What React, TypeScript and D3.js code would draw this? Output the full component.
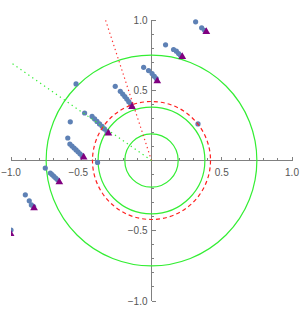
import React from "react";
import * as d3 from "d3";

const W = 300;
const H = 310;

// axis ticks
const majorTicks = [-1.0, -0.5, 0.5, 1.0];
const minorTicks = d3.range(-10, 11).filter(i => i !== 0 && i % 5 !== 0).map(i => i / 10);

// reference circles
const greenRadii = [0.19, 0.38, 0.75];
const redRadius = 0.42;

// direction rays from the origin (clipped by the plot range)
const redRay: [number, number][] = [[0, 0], [-0.36, 1.1]];
const greenRay: [number, number][] = [[0, 0], [-1.02, 0.71]];

// point trails, each one ends in a triangle (trailEnds)
const trails: [number, number][][] = [
    [[0.314, 0.987], [0.357, 0.944], [0.378, 0.927]],
    [[0.100, 0.823], [0.157, 0.790], [0.177, 0.778], [0.193, 0.761], [0.207, 0.747]],
    [[-0.056, 0.663], [-0.021, 0.640], [0.004, 0.619], [0.020, 0.599], [0.034, 0.583]],
    [[-0.258, 0.528], [-0.222, 0.492], [-0.205, 0.473], [-0.190, 0.455], [-0.176, 0.437], [-0.162, 0.419], [-0.148, 0.402]],
    [[-0.537, 0.545], [-0.476, 0.338], [-0.423, 0.314], [-0.405, 0.296], [-0.388, 0.278], [-0.370, 0.260], [-0.352, 0.243], [-0.335, 0.225], [-0.317, 0.207]],
    [[-0.578, 0.275], [-0.596, 0.160], [-0.581, 0.117], [-0.566, 0.103], [-0.551, 0.089], [-0.537, 0.075], [-0.523, 0.062], [-0.509, 0.048], [-0.495, 0.034]],
    [[-0.756, -0.054], [-0.720, -0.089], [-0.708, -0.100], [-0.695, -0.112], [-0.682, -0.125], [-0.668, -0.137]],
    [[-0.898, -0.244], [-0.870, -0.287], [-0.855, -0.316], [-0.839, -0.328]],
    [[-1.000, -0.495]],
];

const trailEnds: [number, number][] = [
    [0.390, 0.916],
    [0.219, 0.738],
    [0.041, 0.565],
    [-0.139, 0.383],
    [-0.307, 0.194],
    [-0.483, 0.023],
    [-0.656, -0.154],
    [-0.836, -0.339],
    [-1.003, -0.522],
];

const strayDots: [number, number][] = [[0.331, 0.260], [-0.384, -0.014]];

const dotColor = "#5e81b5";
const endColor = "#800080";
const axisColor = "#808080";
const labelColor = "#555";

function App(): JSX.Element {
    const x = d3.scaleLinear().domain([-1, 1]).range([11, 292]);
    const y = d3.scaleLinear().domain([-1, 1]).range([301, 20]);
    const x0 = x(0);
    const y0 = y(0);

    const line = d3.line<[number, number]>().x(d => x(d[0])).y(d => y(d[1]));
    const triangle = d3.symbol().type(d3.symbolTriangle).size(26)();

    const fmt = (v: number) => (v < 0 ? "\u2212" : "") + Math.abs(v).toFixed(1);

    return (
        <svg width={W} height={H} style={{position: "absolute", left: 0, top: 0}}>
            <defs>
                <clipPath id="plot">
                    <rect x={x(-1)} y={y(1) - 1} width={x(1) - x(-1)} height={y(-1) - y(1) + 2}/>
                </clipPath>
            </defs>

            {/* axes */}
            <g stroke={axisColor} strokeWidth={1} shapeRendering="crispEdges">
                <line x1={x(-1)} x2={x(1)} y1={y0} y2={y0}/>
                <line x1={x0} x2={x0} y1={y(1)} y2={y(-1)}/>
                {minorTicks.map(t => (
                    <g key={"m" + t}>
                        <line x1={x(t)} x2={x(t)} y1={y0} y2={y0 - 2.5}/>
                        <line x1={x0} x2={x0 + 2.5} y1={y(t)} y2={y(t)}/>
                    </g>
                ))}
                {majorTicks.map(t => (
                    <g key={"M" + t}>
                        <line x1={x(t)} x2={x(t)} y1={y0} y2={y0 - 4}/>
                        <line x1={x0} x2={x0 + 4} y1={y(t)} y2={y(t)}/>
                    </g>
                ))}
            </g>
            <g fontFamily="Liberation Sans, Arial, sans-serif" fontSize={10} fill={labelColor}>
                {majorTicks.map(t => (
                    <text key={"xl" + t} x={Math.max(x(t) - (t < 0 ? 3 : 0), 11)} y={y0 + 15} textAnchor="middle">{fmt(t)}</text>
                ))}
                {majorTicks.map(t => (
                    <text key={"yl" + t} x={x0 - 4} y={y(t) + 3.5} textAnchor="end">{fmt(t)}</text>
                ))}
            </g>

            <g clipPath="url(#plot)">
                {/* green circles */}
                {greenRadii.map(r => (
                    <ellipse key={r} cx={x0} cy={y0} rx={x(r) - x0} ry={y0 - y(r)}
                             fill="none" stroke="#33ee33" strokeWidth={1.2}/>
                ))}

                {/* trails */}
                {trails.map((tr, i) => (
                    <g key={"t" + i} fill={dotColor}>
                        {tr.map((p, j) => <circle key={j} cx={x(p[0])} cy={y(p[1])} r={2.6}/>)}
                    </g>
                ))}
                {strayDots.map((p, i) => <circle key={"s" + i} cx={x(p[0])} cy={y(p[1])} r={2.6} fill={dotColor}/>)}

                {/* red dashed circle */}
                <ellipse cx={x0} cy={y0} rx={x(redRadius) - x0} ry={y0 - y(redRadius)}
                         fill="none" stroke="#ff2020" strokeWidth={1.2} strokeDasharray="4,3"/>

                {/* rays */}
                <path d={line(redRay) || ""} fill="none" stroke="#ff3030" strokeWidth={1.2} strokeDasharray="1.3,3"/>
                <path d={line(greenRay) || ""} fill="none" stroke="#33ee33" strokeWidth={1.2} strokeDasharray="1.3,3.5"/>

                {/* trail ends */}
                {trailEnds.map((p, i) => (
                    <path key={"e" + i} d={triangle || ""} transform={`translate(${x(p[0])},${y(p[1])})`} fill={endColor}/>
                ))}
            </g>
        </svg>
    );
}

export default App;
